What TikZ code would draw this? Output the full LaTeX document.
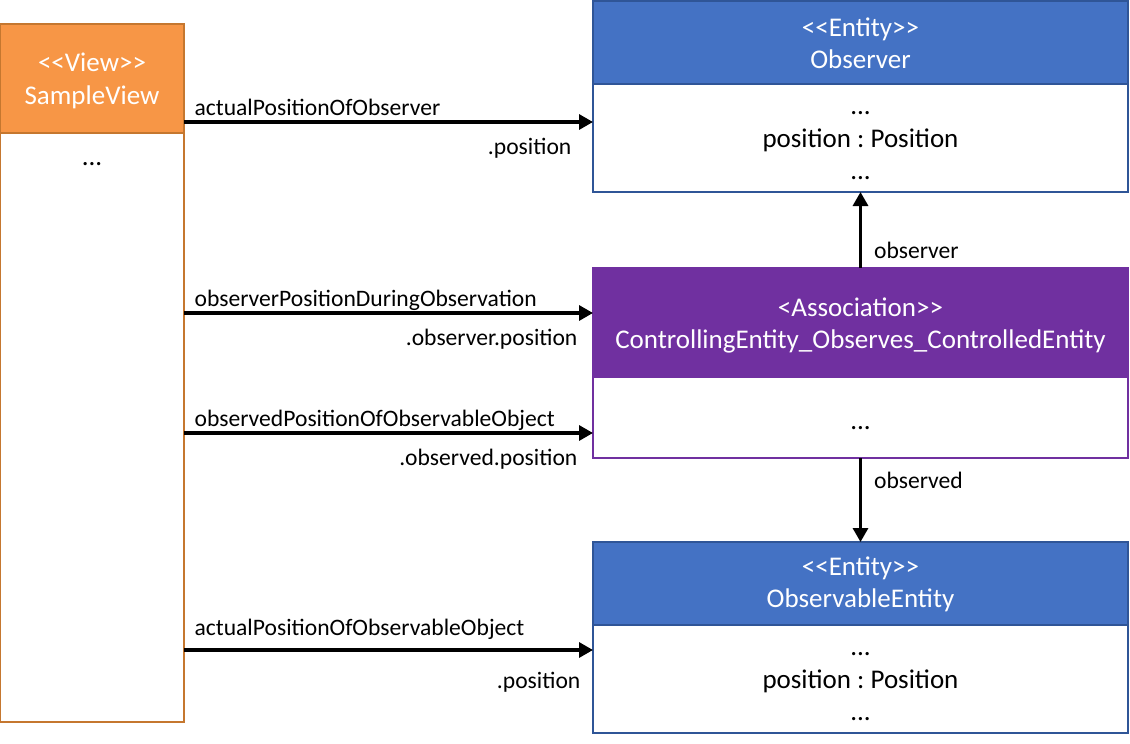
\documentclass[tikz,border=0pt]{standalone}
\usepackage{fontspec}
\setmainfont{Carlito}
\usepackage{xcolor}
\usepackage{tikz}
\usetikzlibrary{arrows.meta, positioning}
\definecolor{kview}{HTML}{F79646}
\definecolor{kviewedge}{HTML}{C5772F}
\definecolor{kentity}{HTML}{4472C4}
\definecolor{kentityedge}{HTML}{2F5597}
\definecolor{kassoc}{HTML}{7030A0}
% stereotype brackets without the << ligature, and a strut for the first line
\newcommand{\ltlt}{<\kern0pt<}
\newcommand{\gtgt}{>\kern0pt>}
\newcommand{\topgap}[1]{\rule{0pt}{#1}}
\frenchspacing
\tikzset{
  boxfont/.style={font=\fontsize{27}{32.5}\selectfont},
  lblfont/.style={font=\fontsize{23.6}{28}\selectfont},
  umlbox/.style={boxfont, align=center, inner sep=0pt, outer sep=0pt, line width=1.3pt},
  viewhead/.style={umlbox, fill=kview, draw=kviewedge, text=white, minimum width=184pt},
  viewbody/.style={umlbox, fill=white, draw=kviewedge, minimum width=184pt},
  entityhead/.style={umlbox, fill=kentity, draw=kentityedge, text=white, minimum width=535pt},
  entitybody/.style={umlbox, fill=white, draw=kentityedge, minimum width=535pt},
  assochead/.style={umlbox, fill=kassoc, draw=kassoc, text=white, minimum width=535pt},
  assocbody/.style={umlbox, fill=white, draw=kassoc, minimum width=535pt},
  conn/.style={line width=3.2pt, -{Triangle[length=14pt, width=15pt]}},
  toplbl/.style={lblfont, anchor=base west, inner sep=0pt, xshift=9pt, yshift=7pt},
  botlbl/.style={lblfont, anchor=base east, inner sep=0pt, xshift=-14pt, yshift=-32pt},
  sidelbl/.style={lblfont, anchor=base west, inner sep=0pt, xshift=12pt}
}

\begin{document}
\begin{tikzpicture}[x=1pt, y=-1pt]

  \useasboundingbox (0,0) rectangle (1130,744);

  %% View
  \node[viewhead, minimum height=109pt] (viewhd) at (92,78.5)
    {\topgap{23pt}\ltlt View\gtgt\\SampleView};
  \node[viewbody, minimum height=589pt, below=0pt of viewhd] (viewbody) {};
  \node[boxfont, anchor=base] (viewdots) at (92,165) {...};

  %% Entities
  \node[entityhead, minimum height=83pt] (obshd) at (860.5,42.5)
    {\topgap{20pt}\ltlt Entity\gtgt\\Observer};
  \node[entitybody, minimum height=108pt, below=0pt of obshd] (obsbody)
    {\topgap{19pt}...\\position : Position\\...};

  \node[entityhead, minimum height=83pt] (oehd) at (860.5,583.5)
    {\topgap{20pt}\ltlt Entity\gtgt\\ObservableEntity};
  \node[entitybody, minimum height=108pt, below=0pt of oehd] (oebody)
    {\topgap{19pt}...\\position : Position\\...};

  %% Association
  \node[assochead, minimum height=109pt] (assochd) at (860.5,322.5)
    {\topgap{25pt}<Association\gtgt\\ControllingEntity\_Observes\_ControlledEntity};
  \node[assocbody, minimum height=81pt, below=0pt of assochd] (assocbody)
    {\topgap{24pt}...};

  %% Connectors
  \coordinate (r1) at (0,122);
  \coordinate (r2) at (0,313);
  \coordinate (r3) at (0,433);
  \coordinate (r4) at (0,650);

  \draw[conn] (viewbody.east |- r1) -- (obsbody.west |- r1)
    node[pos=0, toplbl] {actualPositionOfObserver}
    node[pos=1, botlbl, xshift=-6pt] {.position};
  \draw[conn] (viewbody.east |- r2) -- (assochd.west |- r2)
    node[pos=0, toplbl] {observerPositionDuringObservation}
    node[pos=1, botlbl] {.observer.position};
  \draw[conn] (viewbody.east |- r3) -- (assocbody.west |- r3)
    node[pos=0, toplbl] {observedPositionOfObservableObject}
    node[pos=1, botlbl] {.observed.position};
  \draw[conn] (viewbody.east |- r4) -- (oebody.west |- r4)
    node[pos=0, toplbl, yshift=8pt] {actualPositionOfObservableObject}
    node[pos=1, botlbl, xshift=3pt, yshift=-6pt] {.position};

  \draw[conn] (assochd.north) -- (obsbody.south)
    node[pos=0, sidelbl, yshift=10pt] {observer};
  \draw[conn] (assocbody.south) -- (oehd.north)
    node[pos=0, sidelbl, yshift=-30pt] {observed};

\end{tikzpicture}
\end{document}
